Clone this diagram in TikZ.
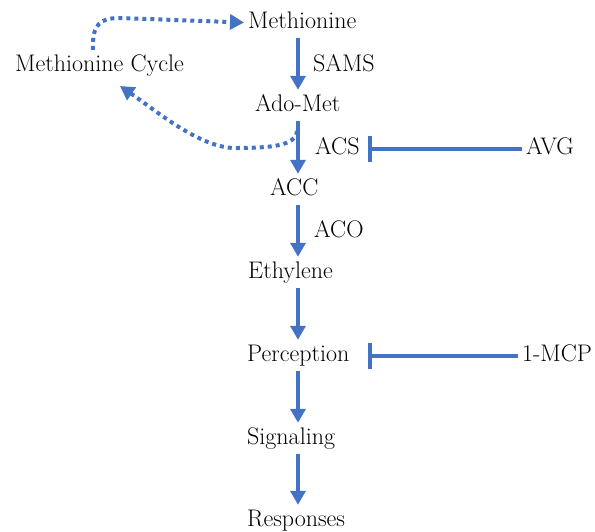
\documentclass[tikz,border=0pt]{standalone}
\usepackage{amsmath}
\usetikzlibrary{arrows.meta, positioning, calc}
\definecolor{pathblue}{RGB}{68,114,196}

\begin{document}
\begin{tikzpicture}[x=1pt, y=-1pt,
    lbl/.style={anchor=base west, inner xsep=4pt, inner ysep=5pt, text height=16pt, text depth=5pt, font=\fontsize{24}{28}\selectfont},
    flow/.style={color=pathblue, line width=4pt, -{Triangle[width=15pt,length=14pt]}},
    loopflow/.style={color=pathblue, line width=4pt, dash pattern=on 4pt off 4pt, -{Triangle[width=15pt,length=14pt]}},
    block/.style={color=pathblue, line width=4pt, -{Bar[width=26pt]}}]
  \useasboundingbox (0,0) rectangle (595,531);
  \coordinate (ax) at (298,0);
  \coordinate (barx) at (368,0);
  \node[lbl] (meth) at (244,28) {Methionine};
  \node[lbl] (cycle) at (11,71) {Methionine Cycle};
  \node[lbl] (sams) at (309,71) {SAMS};
  \node[lbl] (adomet) at (251,111) {Ado-Met};
  \node[lbl] (acs) at (311,154) {ACS};
  \node[lbl] (avg) at (522,154) {AVG};
  \node[lbl] (acc) at (266,195) {ACC};
  \node[lbl] (aco) at (310,237) {ACO};
  \node[lbl] (eth) at (244,278) {Ethylene};
  \node[lbl] (perc) at (243,361) {Perception};
  \node[lbl] (mcp) at (518,361) {1-MCP};
  \node[lbl] (sig) at (243,444) {Signaling};
  \node[lbl] (resp) at (243,526) {Responses};
  % main pathway
  \draw[flow] (meth.south -| ax) -- (adomet.north -| ax);
  \draw[flow] (adomet.south -| ax) -- (acc.north -| ax);
  \draw[flow] (acc.south -| ax) -- (eth.north -| ax);
  \draw[flow] (eth.south -| ax) -- (perc.north -| ax);
  \draw[flow] (perc.south -| ax) -- (sig.north -| ax);
  \draw[flow] (sig.south -| ax) -- (resp.north -| ax);
  % inhibitors
  \draw[block] (avg.west) -- (avg.west -| barx);
  \draw[block] (mcp.west) -- (mcp.west -| barx);
  % methionine recycling
  \draw[loopflow] (cycle.north -| 93,0) .. controls (92,24) and (100,18) .. (120,18) -- (meth.west);
  \draw[loopflow] (297,131) .. controls (296,146) and (270,148) .. (235,148) .. controls (200,148) and (155,110) .. (120,86);
\end{tikzpicture}
\end{document}
